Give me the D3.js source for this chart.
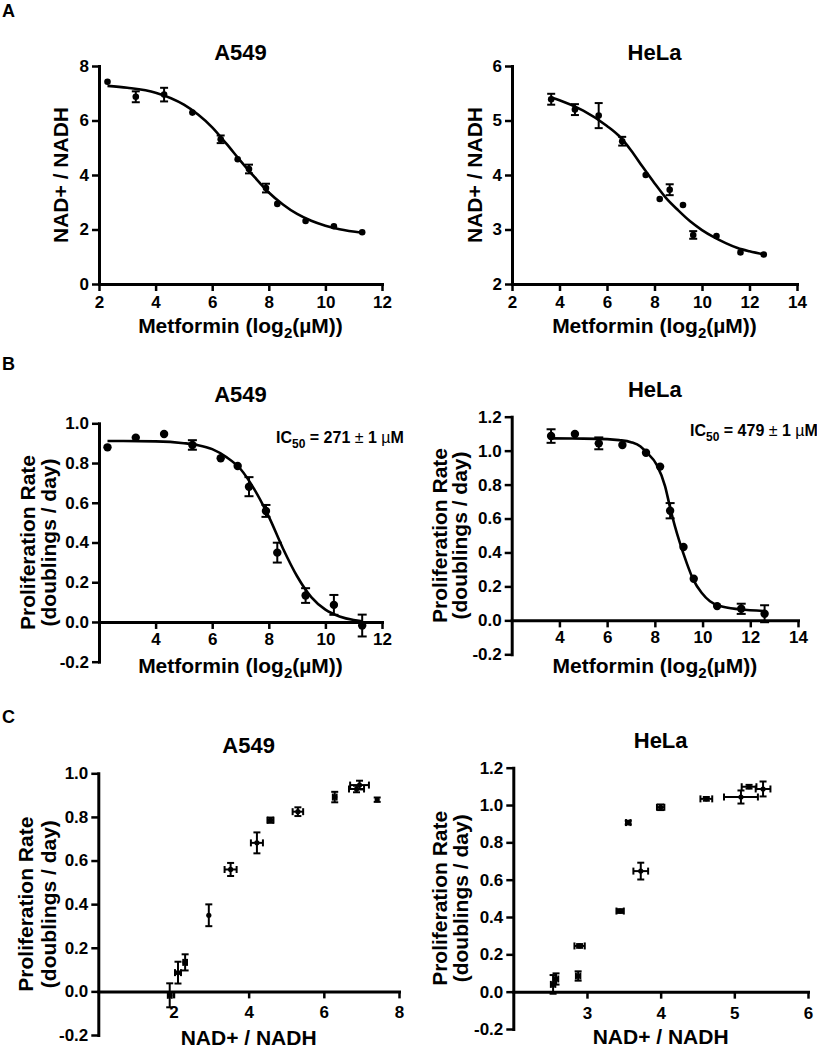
<!DOCTYPE html>
<html>
<head>
<meta charset="utf-8">
<script src="https://cdn.jsdelivr.net/npm/d3@7"></script>
<style>
  body { margin: 0; background: #fff; }
  svg text { font-family: "Liberation Sans", Arial, sans-serif; font-weight: bold; fill: #000; }
</style>
</head>
<body>
<div id="chart"></div>
<script>
// ---- data ----
const a549Dose = [2.3, 3.3, 4.3, 5.3, 6.3, 6.9, 7.3, 7.9, 8.3, 9.3, 10.3, 11.3];
const a549Ratio = [7.42, 6.87, 6.95, 6.29, 5.31, 4.58, 4.22, 3.52, 2.94, 2.31, 2.12, 1.9];
const a549RatioErr = [0.03, 0.2, 0.25, 0.05, 0.14, 0.08, 0.16, 0.16, 0.03, 0.05, 0.08, 0.05];
const a549Rate = [0.879, 0.928, 0.946, 0.891, 0.824, 0.785, 0.681, 0.559, 0.349, 0.133, 0.086, -0.018];
const a549RateErr = [0.01, 0.015, 0.02, 0.024, 0.02, 0.012, 0.048, 0.03, 0.05, 0.037, 0.05, 0.055];

const helaDose = [3.65, 4.65, 5.65, 6.64, 7.63, 8.22, 8.64, 9.2, 9.63, 10.61, 11.62, 12.6];
const helaRatio = [5.39, 5.2, 5.09, 4.62, 4.0, 3.56, 3.73, 3.45, 2.9, 2.88, 2.58, 2.54];
const helaRatioErr = [0.1, 0.1, 0.23, 0.08, 0.05, 0.03, 0.1, 0.05, 0.07, 0.03, 0.03, 0.03];
const helaRate = [1.086, 1.098, 1.043, 1.033, 0.988, 0.906, 0.646, 0.432, 0.245, 0.084, 0.068, 0.039];
const helaRateErr = [0.04, 0.01, 0.035, 0.01, 0.015, 0.01, 0.045, 0.01, 0.01, 0.025, 0.03, 0.05];

// fitted curves
const a549RatioFit = [[2.3, 7.27], [3, 7.2], [4, 7.02], [5, 6.58], [5.5, 6.22], [6, 5.75], [6.5, 5.15], [7, 4.52],
  [7.5, 3.92], [8, 3.36], [8.5, 2.92], [9, 2.57], [9.5, 2.32], [10, 2.14], [10.5, 2.01], [11.3, 1.88]];
const helaRatioFit = [[3.65, 5.42], [4, 5.37], [5, 5.18], [6, 4.9], [6.5, 4.72], [7, 4.46], [7.5, 4.15], [8, 3.85],
  [8.5, 3.57], [9, 3.35], [9.5, 3.15], [10, 2.99], [10.5, 2.86], [11, 2.75], [11.5, 2.66], [12, 2.6], [12.65, 2.54]];
const a549RateFit = [[2.3, 0.911], [4, 0.909], [5, 0.9], [5.5, 0.89], [6, 0.87], [6.5, 0.83], [7, 0.77], [7.5, 0.665],
  [8, 0.53], [8.5, 0.37], [9, 0.23], [9.5, 0.125], [10, 0.062], [10.5, 0.028], [11, 0.01], [11.3, 0.004]];
const helaRateFit = [[3.65, 1.072], [5, 1.071], [6, 1.068], [6.5, 1.062], [7, 1.05], [7.4, 1.025], [7.65, 0.99],
  [8.08, 0.916], [8.43, 0.79], [8.63, 0.67], [8.84, 0.555], [9.05, 0.456], [9.33, 0.34], [9.61, 0.24],
  [9.96, 0.163], [10.31, 0.113], [10.73, 0.084], [11.57, 0.065], [12.6, 0.055]];

const doseTicksA549 = [2, 4, 6, 8, 10, 12];
const doseTicksHela = [2, 4, 6, 8, 10, 12, 14];
const ratioTicksA549 = [0, 2, 4, 6, 8];
const ratioTicksHela = [2, 3, 4, 5, 6];
const rateTicksA549 = [-0.2, 0, 0.2, 0.4, 0.6, 0.8, 1.0];
const rateTicksHela = [-0.2, 0, 0.2, 0.4, 0.6, 0.8, 1.0, 1.2];

const svg = d3.select("#chart").append("svg")
  .attr("width", 817)
  .attr("height", 1050);

const zip = (xs, ys, xe, ye) => xs.map((v, i) => ({ x: v, y: ys[i], xe: xe ? xe[i] : 0, ye: ye ? ye[i] : 0 }));
const intFmt = d3.format("d");
const decFmt = (d) => d.toFixed(1);

function drawPanel(p) {
  const x = d3.scaleLinear().domain(p.xDomain).range([p.left, p.right]);
  const y = d3.scaleLinear().domain(p.yDomain).range([p.bottom, p.top]);
  const g = svg.append("g");

  g.append("g")
    .attr("transform", `translate(${p.left},0)`)
    .call(d3.axisLeft(y).tickValues(p.yTicks).tickFormat(p.yFormat)
      .tickSize(7).tickSizeOuter(0).tickPadding(3));

  g.append("g")
    .attr("transform", `translate(0,${y(p.xAxisAt)})`)
    .call(d3.axisBottom(x).tickValues(p.xTicks).tickFormat(intFmt)
      .tickSize(7).tickSizeOuter(0).tickPadding(p.xPad));

  g.selectAll(".domain").attr("stroke", "#000").attr("stroke-width", 3).attr("stroke-linecap", "square");
  g.selectAll(".tick line").attr("stroke", "#000").attr("stroke-width", 2.5);
  g.selectAll(".tick text")
    .attr("font-size", 17)
    .attr("font-family", '"Liberation Sans", Arial, sans-serif')
    .attr("font-weight", "bold")
    .attr("fill", "#000");

  // title
  g.append("text")
    .attr("x", (p.left + p.right) / 2)
    .attr("y", p.titleY)
    .attr("text-anchor", "middle")
    .style("font-size", "22px")
    .text(p.title);

  // x label
  const xl = g.append("text")
    .attr("x", (p.left + p.right) / 2)
    .attr("y", p.xLabelY)
    .attr("text-anchor", "middle")
    .style("font-size", "21px");
  if (p.xLabelSub) {
    xl.append("tspan").text("Metformin (log");
    xl.append("tspan").attr("dy", 5).style("font-size", "15px").text("2");
    xl.append("tspan").attr("dy", -5).text("(\u00B5M))");
  } else {
    xl.text(p.xLabel);
  }

  // y label
  const cy = (p.top + p.bottom) / 2;
  p.yLabel.forEach((line, i) => {
    g.append("text")
      .attr("transform", `translate(${p.yLabelX[i]},${cy}) rotate(-90)`)
      .attr("text-anchor", "middle")
      .style("font-size", "21px")
      .text(line);
  });

  // fitted curve
  if (p.fit) {
    g.append("path")
      .datum(p.fit)
      .attr("fill", "none")
      .attr("stroke", "#000")
      .attr("stroke-width", 2.6)
      .attr("d", d3.line().x((d) => x(d[0])).y((d) => y(d[1])).curve(d3.curveMonotoneX));
  }

  // error bars
  const cap = p.cap;
  const bars = g.append("g").attr("stroke", "#000").attr("stroke-width", 2);
  p.points.forEach((d) => {
    const cx = x(d.x), cyp = y(d.y);
    const dy = Math.abs(y(d.y + d.ye) - cyp);
    const dx = Math.abs(x(d.x + d.xe) - cx);
    if (dy > p.minBar) {
      bars.append("line").attr("x1", cx).attr("x2", cx).attr("y1", cyp - dy).attr("y2", cyp + dy);
      bars.append("line").attr("x1", cx - cap).attr("x2", cx + cap).attr("y1", cyp - dy).attr("y2", cyp - dy);
      bars.append("line").attr("x1", cx - cap).attr("x2", cx + cap).attr("y1", cyp + dy).attr("y2", cyp + dy);
    }
    if (dx > p.minBar) {
      bars.append("line").attr("y1", cyp).attr("y2", cyp).attr("x1", cx - dx).attr("x2", cx + dx);
      bars.append("line").attr("y1", cyp - cap).attr("y2", cyp + cap).attr("x1", cx - dx).attr("x2", cx - dx);
      bars.append("line").attr("y1", cyp - cap).attr("y2", cyp + cap).attr("x1", cx + dx).attr("x2", cx + dx);
    }
  });

  g.append("g").selectAll("circle")
    .data(p.points)
    .enter()
    .append("circle")
    .attr("cx", (d) => x(d.x))
    .attr("cy", (d) => y(d.y))
    .attr("r", p.r)
    .attr("fill", "#000");

  if (p.ic50) {
    const t = g.append("text")
      .attr("x", p.ic50x)
      .attr("y", p.ic50y)
      .style("font-size", "16px");
    t.append("tspan").text("IC");
    t.append("tspan").attr("dy", 5).style("font-size", "12px").text("50");
    t.append("tspan").attr("dy", -5).text(" = " + p.ic50 + " ");
    t.append("tspan").style("font-weight", "normal").text("\u00B1");
    t.append("tspan").text(" 1 ");
    t.append("tspan").style("font-weight", "normal").text("\u00B5");
    t.append("tspan").text("M");
  }
}

// ---- panel A ----
drawPanel({
  left: 99, right: 382, top: 66, bottom: 284,
  xDomain: [2, 12], yDomain: [0, 8], xTicks: doseTicksA549, yTicks: ratioTicksA549, yFormat: intFmt,
  xAxisAt: 0, xPad: 5, title: "A549", titleY: 60, xLabelSub: true, xLabelY: 333,
  yLabel: ["NAD+ / NADH"], yLabelX: [68],
  points: zip(a549Dose, a549Ratio, null, a549RatioErr), fit: a549RatioFit, r: 3.3, cap: 4, minBar: 3.5
});
drawPanel({
  left: 512, right: 797, top: 66, bottom: 284,
  xDomain: [2, 14], yDomain: [2, 6], xTicks: doseTicksHela, yTicks: ratioTicksHela, yFormat: intFmt,
  xAxisAt: 2, xPad: 5, title: "HeLa", titleY: 60, xLabelSub: true, xLabelY: 333,
  yLabel: ["NAD+ / NADH"], yLabelX: [482],
  points: zip(helaDose, helaRatio, null, helaRatioErr), fit: helaRatioFit, r: 3.3, cap: 4, minBar: 3.5
});

// ---- panel B ----
drawPanel({
  left: 99, right: 382, top: 423.3, bottom: 661.7,
  xDomain: [2, 12], yDomain: [-0.2, 1.0], xTicks: doseTicksA549.slice(1), yTicks: rateTicksA549, yFormat: decFmt,
  xAxisAt: 0, xPad: 4, title: "A549", titleY: 402, xLabelSub: true, xLabelY: 673,
  yLabel: ["Proliferation Rate", "(doublings / day)"], yLabelX: [35, 56],
  points: zip(a549Dose, a549Rate, null, a549RateErr), fit: a549RateFit, r: 4.2, cap: 4.5, minBar: 4.5,
  ic50: "271", ic50x: 276, ic50y: 443
});
drawPanel({
  left: 511.7, right: 798, top: 416.7, bottom: 654.3,
  xDomain: [2, 14], yDomain: [-0.2, 1.2], xTicks: doseTicksHela.slice(1), yTicks: rateTicksHela, yFormat: decFmt,
  xAxisAt: 0, xPad: 4, title: "HeLa", titleY: 397, xLabelSub: true, xLabelY: 673,
  yLabel: ["Proliferation Rate", "(doublings / day)"], yLabelX: [447, 467],
  points: zip(helaDose, helaRate, null, helaRateErr), fit: helaRateFit, r: 4.2, cap: 4.5, minBar: 4.5,
  ic50: "479", ic50x: 690, ic50y: 436
});

// ---- panel C ----
drawPanel({
  left: 98.3, right: 399, top: 773.3, bottom: 1035,
  xDomain: [0, 8], yDomain: [-0.2, 1.0], xTicks: [2, 4, 6, 8], yTicks: rateTicksA549, yFormat: decFmt,
  xAxisAt: 0, xPad: 8, title: "A549", titleY: 753, xLabel: "NAD+ / NADH", xLabelY: 1045,
  yLabel: ["Proliferation Rate", "(doublings / day)"], yLabelX: [33, 56],
  points: zip(a549Ratio, a549Rate, a549RatioErr, a549RateErr), r: 2.6, cap: 3.5, minBar: 1.5
});
drawPanel({
  left: 513.3, right: 808, top: 767.7, bottom: 1029,
  xDomain: [2, 6], yDomain: [-0.2, 1.2], xTicks: [3, 4, 5, 6], yTicks: rateTicksHela, yFormat: decFmt,
  xAxisAt: 0, xPad: 8, title: "HeLa", titleY: 748, xLabel: "NAD+ / NADH", xLabelY: 1044,
  yLabel: ["Proliferation Rate", "(doublings / day)"], yLabelX: [447, 468],
  points: zip(helaRatio, helaRate, helaRatioErr, helaRateErr), r: 2.6, cap: 3.5, minBar: 1.5
});

// panel letters
svg.selectAll("text.letter")
  .data([["A", 17], ["B", 370], ["C", 723]])
  .enter()
  .append("text")
  .attr("class", "letter")
  .attr("x", 2)
  .attr("y", (d) => d[1])
  .style("font-size", "18px")
  .text((d) => d[0]);
</script>
</body>
</html>
